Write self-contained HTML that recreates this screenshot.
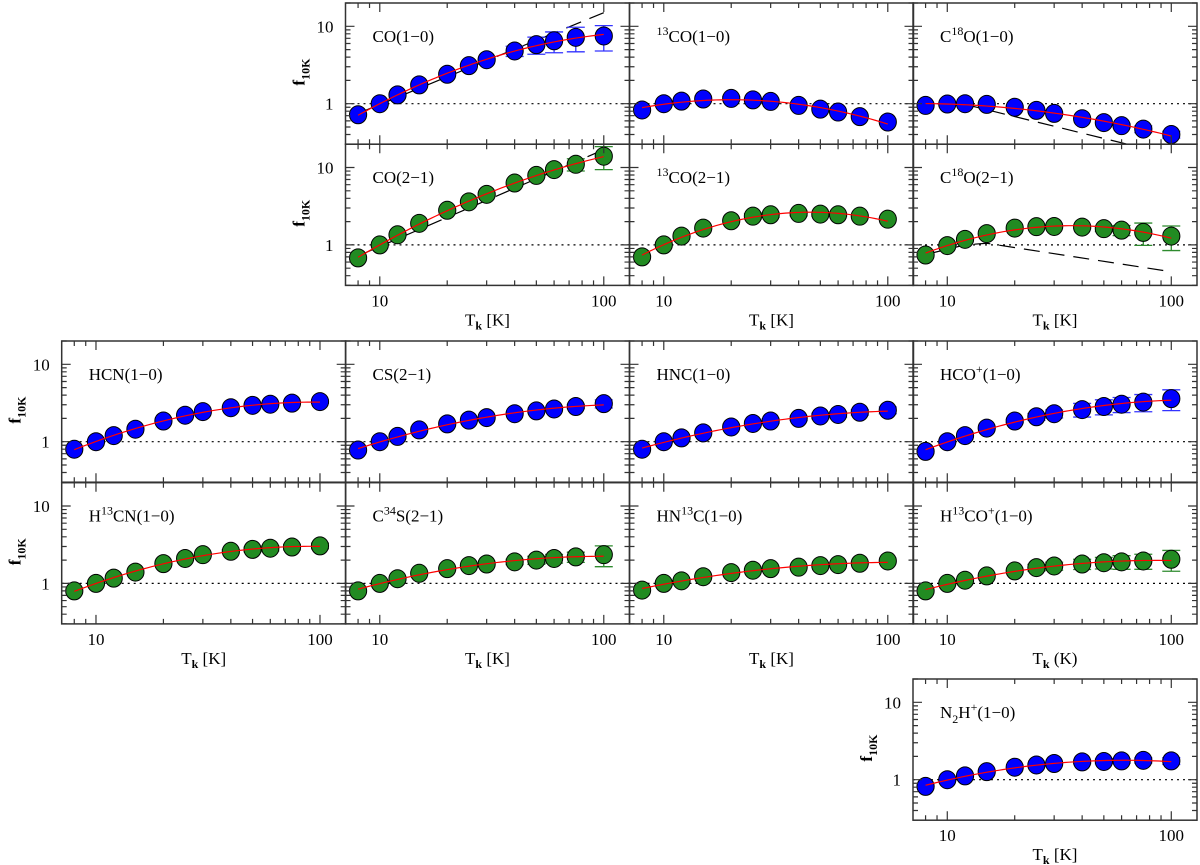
<!DOCTYPE html>
<html><head><meta charset="utf-8"><style>
html,body{margin:0;padding:0;background:#fff;}
svg{display:block;font-family:"Liberation Serif",serif;}
</style></head><body>
<svg id="chart" width="1200" height="865" viewBox="0 0 1200 865" xmlns="http://www.w3.org/2000/svg"></svg>
<script>
const T=[8,10,12,15,20,25,30,40,50,60,75,100];
const vCO10=[0.72,1.0,1.3,1.75,2.4,3.1,3.7,4.8,5.8,6.5,7.2,7.5];
const eCO10=[0,0,0,0,0,0,0,0.15,0.25,0.3,0.35,0.36];
const v13CO10=[0.83,1.0,1.08,1.15,1.17,1.12,1.07,0.95,0.85,0.78,0.68,0.58];
const e13CO10=[0,0,0,0,0.05,0.05,0.05,0,0,0,0,0];
const vC18O10=[0.95,0.99,1.0,0.98,0.9,0.82,0.75,0.64,0.57,0.52,0.47,0.4];
const eC18O10=[0,0,0,0,0,0,0,0,0,0.06,0.1,0.1];
const vCO21=[0.68,1.0,1.35,1.9,2.8,3.6,4.5,6.3,7.9,9.4,11,14];
const eCO21=[0,0,0,0,0,0,0,0,0,0.05,0.18,0.33];
const v13CO21=[0.7,1.0,1.3,1.65,2.05,2.35,2.45,2.55,2.5,2.45,2.35,2.15];
const e13CO21=[0,0,0,0,0,0.08,0.07,0.07,0.06,0.05,0,0];
const vC18O21=[0.74,0.98,1.18,1.4,1.65,1.72,1.73,1.7,1.62,1.55,1.45,1.3];
const eC18O21=[0,0,0,0,0,0,0,0.05,0.08,0.15,0.32,0.35];
const vHCN=[0.8,1.0,1.2,1.45,1.85,2.2,2.45,2.75,2.95,3.05,3.15,3.3];
const eHCN=[0,0,0,0,0,0,0,0,0,0,0,0.05];
const vCS=[0.78,1.0,1.17,1.42,1.7,1.9,2.05,2.3,2.5,2.65,2.85,3.1];
const eCS=[0,0,0,0,0,0,0,0,0,0,0.06,0.12];
const vHNC=[0.8,1.0,1.12,1.3,1.55,1.72,1.85,2.0,2.15,2.25,2.4,2.55];
const eHNC=[0,0,0,0,0,0,0.06,0.06,0.08,0.08,0.08,0.1];
const vHCOp=[0.75,1.0,1.2,1.5,1.85,2.1,2.3,2.6,2.85,3.05,3.25,3.6];
const eHCOp=[0,0,0,0,0.05,0.1,0.12,0.2,0.22,0.22,0.25,0.3];
const vH13CN=[0.8,1.0,1.17,1.4,1.8,2.1,2.35,2.6,2.75,2.85,2.95,3.05];
const eH13CN=[0,0,0,0,0,0,0,0.05,0.07,0.08,0.08,0.08];
const vC34S=[0.8,1.0,1.15,1.35,1.55,1.7,1.78,1.9,2.0,2.1,2.2,2.35];
const eC34S=[0,0,0,0,0,0,0,0.08,0.12,0.13,0.15,0.3];
const vHN13C=[0.82,1.0,1.08,1.22,1.38,1.48,1.55,1.62,1.7,1.75,1.82,1.95];
const eHN13C=[0,0,0,0,0,0,0,0,0,0,0,0];
const vH13COp=[0.8,1.0,1.1,1.25,1.45,1.6,1.68,1.78,1.85,1.9,1.95,2.05];
const eH13COp=[0,0,0,0,0,0.1,0.12,0.15,0.17,0.2,0.22,0.3];
const vN2Hp=[0.82,1.0,1.12,1.27,1.45,1.55,1.62,1.7,1.72,1.75,1.78,1.75];
const eN2Hp=[0,0,0,0,0,0,0,0.05,0.07,0.07,0.08,0.1];
const dashCO10T=[8,100], dashCO10V=[0.75,15];
const dashCO21T=[8,100], dashCO21V=[0.72,17];
const dashC18O10T=[12,70], dashC18O10V=[0.98,0.28];
const dashC18O21T=[8,12,15,100], dashC18O21V=[0.75,1.0,1.05,0.45];
const yTickLabels=["1","10"], yTickVals=[1,10];
const xTickLabels=["10","100"], xTickVals=[10,100];

const NS="http://www.w3.org/2000/svg";
const svg=document.getElementById('chart');
const PW=284,PH=141.2,XMIN=Math.log10(7.03),XD=224,YMAX=Math.log10(20),YD=77.4;
const BLUE='#0000ff',GREEN='#228b22';
function el(tag,attrs,parent){const e=document.createElementNS(NS,tag);for(const k in attrs)e.setAttribute(k,attrs[k]);(parent||svg).appendChild(e);return e;}
const SUP=s=>'<tspan dy="-7" font-size="12">'+s+'</tspan>';
const panels=[
 {id:'co-1-0',label:'CO(1−0)',x:345.5,y:3,v:vCO10,e:eCO10,c:BLUE,dT:dashCO10T,dV:dashCO10V,yl:true},
 {id:'13co-1-0',label:SUP('13')+'<tspan dy="7">CO(1−0)</tspan>',x:629.5,y:3,v:v13CO10,e:e13CO10,c:BLUE},
 {id:'c18o-1-0',label:'C'+SUP('18')+'<tspan dy="7">O(1−0)</tspan>',x:913,y:3,v:vC18O10,e:eC18O10,c:BLUE,dT:dashC18O10T,dV:dashC18O10V},
 {id:'co-2-1',label:'CO(2−1)',x:345.5,y:144.2,v:vCO21,e:eCO21,c:GREEN,dT:dashCO21T,dV:dashCO21V,yl:true,xl:true,xt:'[K]'},
 {id:'13co-2-1',label:SUP('13')+'<tspan dy="7">CO(2−1)</tspan>',x:629.5,y:144.2,v:v13CO21,e:e13CO21,c:GREEN,xl:true,xt:'[K]'},
 {id:'c18o-2-1',label:'C'+SUP('18')+'<tspan dy="7">O(2−1)</tspan>',x:913,y:144.2,v:vC18O21,e:eC18O21,c:GREEN,dT:dashC18O21T,dV:dashC18O21V,xl:true,xt:'[K]'},
 {id:'hcn-1-0',label:'HCN(1−0)',x:61.7,y:341,v:vHCN,e:eHCN,c:BLUE,yl:true},
 {id:'cs-2-1',label:'CS(2−1)',x:345.5,y:341,v:vCS,e:eCS,c:BLUE},
 {id:'hnc-1-0',label:'HNC(1−0)',x:629.5,y:341,v:vHNC,e:eHNC,c:BLUE},
 {id:'hco-plus-1-0',label:'HCO'+SUP('+')+'<tspan dy="7">(1−0)</tspan>',x:913,y:341,v:vHCOp,e:eHCOp,c:BLUE},
 {id:'h13cn-1-0',label:'H'+SUP('13')+'<tspan dy="7">CN(1−0)</tspan>',x:61.7,y:482.7,v:vH13CN,e:eH13CN,c:GREEN,yl:true,xl:true,xt:'[K]'},
 {id:'c34s-2-1',label:'C'+SUP('34')+'<tspan dy="7">S(2−1)</tspan>',x:345.5,y:482.7,v:vC34S,e:eC34S,c:GREEN,xl:true,xt:'[K]'},
 {id:'hn13c-1-0',label:'HN'+SUP('13')+'<tspan dy="7">C(1−0)</tspan>',x:629.5,y:482.7,v:vHN13C,e:eHN13C,c:GREEN,xl:true,xt:'[K]'},
 {id:'h13co-plus-1-0',label:'H'+SUP('13')+'<tspan dy="7">CO</tspan>'+SUP('+')+'<tspan dy="7">(1−0)</tspan>',x:913,y:482.7,v:vH13COp,e:eH13COp,c:GREEN,xl:true,xt:'(K)'},
 {id:'n2h-plus-1-0',label:'N<tspan dy="5" font-size="12">2</tspan><tspan dy="-5">H</tspan>'+SUP('+')+'<tspan dy="7">(1−0)</tspan>',x:913,y:679,v:vN2Hp,e:eN2Hp,c:BLUE,yl:true,xl:true,xt:'[K]'}
];
function fitQuad(xs,ys){let S=[0,0,0,0,0],R=[0,0,0];for(let i=0;i<xs.length;i++){let p=1;for(let k=0;k<5;k++){S[k]+=p;if(k<3)R[k]+=p*ys[i];p*=xs[i];}}
 const A=[[S[0],S[1],S[2],R[0]],[S[1],S[2],S[3],R[1]],[S[2],S[3],S[4],R[2]]];
 for(let i=0;i<3;i++){for(let j=i+1;j<3;j++){const f=A[j][i]/A[i][i];for(let k=i;k<4;k++)A[j][k]-=f*A[i][k];}}
 const c=[0,0,0];for(let i=2;i>=0;i--){let s=A[i][3];for(let k=i+1;k<3;k++)s-=A[i][k]*c[k];c[i]=s/A[i][i];}return c;}
panels.forEach((p,pi)=>{
 const X=t=>p.x+(Math.log10(t)-XMIN)*XD;
 const Y=v=>p.y+(YMAX-Math.log10(v))*YD;
 const g=el('g',{});
 
 
 const cp=el('clipPath',{id:'cp'+pi},g);el('rect',{x:p.x,y:p.y,width:PW,height:PH},cp);
 const inner=el('g',{'clip-path':'url(#cp'+pi+')'},g);
 const ref=el('line',{x1:p.x,x2:p.x+PW,y1:Y(1),y2:Y(1),stroke:'#000','stroke-width':1.2,'stroke-dasharray':'2,4'},inner);
 
 
 if(p.dT){const d=el('polyline',{points:p.dT.map((t,i)=>X(t)+','+Y(p.dV[i])).join(' '),fill:'none',stroke:'#000','stroke-width':1.2,'stroke-dasharray':'16,9'},inner);
  
  }
 const xs=T.map(t=>Math.log10(t)),ys=p.v.map(v=>Math.log10(v));const c=fitQuad(xs,ys);
 const pts=[];for(let i=0;i<=60;i++){const lx=Math.log10(8)+(2-Math.log10(8))*i/60;const ly=c[0]+c[1]*lx+c[2]*lx*lx;pts.push(X(Math.pow(10,lx))+','+Y(Math.pow(10,ly)));}
 p.v.forEach((v,i)=>{if(p.e[i]>0){const hi=v*(1+p.e[i]),lo=v*(1-p.e[i]);const x=X(T[i]);
  const eb=el('path',{d:`M${x},${Y(hi)}V${Y(lo)}M${x-9},${Y(hi)}h18M${x-9},${Y(lo)}h18`,stroke:p.c===BLUE?'#3333ff':'#2e8b2e','stroke-width':1.3,fill:'none'},inner);
  
  }});
 p.v.forEach((v,i)=>{const m=el('ellipse',{cx:X(T[i]),cy:Y(v),rx:8.6,ry:9,fill:p.c,stroke:'#000','stroke-width':1},inner);
  
  });
 const fl=el('polyline',{points:pts.join(' '),fill:'none',stroke:'#ff0000','stroke-width':1.2},inner);
 
 
 el('rect',{x:p.x,y:p.y,width:PW,height:PH,fill:'none',stroke:'#333','stroke-width':1.5},g);
 let tk='';
 [8,9,10,20,30,40,50,60,70,80,90,100].forEach(t=>{const x=X(t),L=(t===10||t===100)?9:5;tk+=`M${x},${p.y+PH}v${-L}M${x},${p.y}v${L}`;});
 [0.3,0.4,0.5,0.6,0.7,0.8,0.9,1,2,3,4,5,6,7,8,9,10,20].forEach(v=>{const y=Y(v),L=(v===1||v===10)?9:5;tk+=`M${p.x},${y}h${L}M${p.x+PW},${y}h${-L}`;});
 el('path',{d:tk,stroke:'#333','stroke-width':1.2,fill:'none'},g);
 const lb=el('text',{x:p.x+27,y:p.y+39,'font-size':17,fill:'#000'},g);lb.innerHTML=p.label;
 
 
 if(p.yl){yTickVals.forEach((v,i)=>{const t=el('text',{x:p.x-12,y:Y(v)+6,'font-size':17,'text-anchor':'end'},g);t.textContent=yTickLabels[i];
   
   });
  const yt=el('text',{transform:`translate(${p.x-41},${p.y+PH/2+12}) rotate(-90)`,'font-size':17,'font-weight':'bold'},g);
  yt.innerHTML='f<tspan dy="5" font-size="12">10K</tspan>';
  
  }
 if(p.xl){xTickVals.forEach((v,i)=>{const t=el('text',{x:X(v),y:p.y+PH+21,'font-size':17,'text-anchor':'middle'},g);t.textContent=xTickLabels[i];
   
   });
  const xt=el('text',{x:p.x+PW/2,y:p.y+PH+40,'font-size':17,'text-anchor':'middle'},g);
  xt.innerHTML='T<tspan dy="4" font-size="12" font-weight="bold">k</tspan><tspan dy="-4"> '+p.xt+'</tspan>';
  
  }
});
</script>
</body></html>
